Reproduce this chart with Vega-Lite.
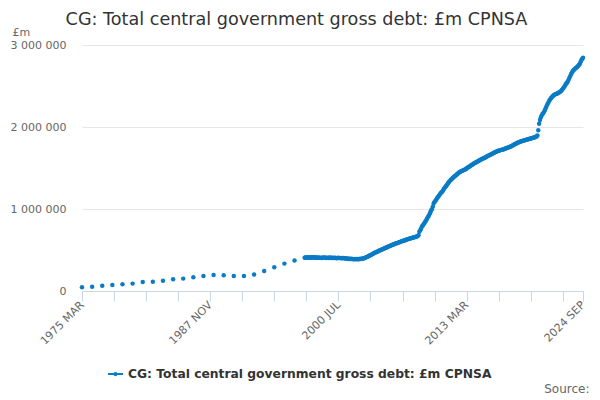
{
  "$schema": "https://vega.github.io/schema/vega-lite/v6.json",
  "description": "CG: Total central government gross debt, £m CPNSA, annual to 1997 then monthly",
  "width": 501,
  "height": 246,
  "autosize": {"type": "none"},
  "padding": {"left": 82, "top": 45, "right": 17, "bottom": 109},
  "background": "white",
  "title": {
    "text": "CG: Total central government gross debt: £m CPNSA",
    "fontSize": 17.6,
    "fontWeight": "normal",
    "color": "#333333",
    "anchor": "middle",
    "frame": "group",
    "baseline": "alphabetic",
    "dx": -36,
    "offset": -16
  },
  "data": {
    "values": [
      {"d": "1975-03", "v": 45000}, {"d": "1976-03", "v": 53000}, {"d": "1977-03", "v": 65000},
      {"d": "1978-03", "v": 73000}, {"d": "1979-03", "v": 82000}, {"d": "1980-03", "v": 90000},
      {"d": "1981-03", "v": 110000}, {"d": "1982-03", "v": 114000}, {"d": "1983-03", "v": 126000},
      {"d": "1984-03", "v": 143000}, {"d": "1985-03", "v": 151000}, {"d": "1986-03", "v": 167000},
      {"d": "1987-03", "v": 184000}, {"d": "1988-03", "v": 196000}, {"d": "1989-03", "v": 192000},
      {"d": "1990-03", "v": 184000}, {"d": "1991-03", "v": 184000}, {"d": "1992-03", "v": 200000},
      {"d": "1993-03", "v": 245000}, {"d": "1994-03", "v": 290000}, {"d": "1995-03", "v": 334000},
      {"d": "1996-03", "v": 371000}, {"d": "1997-03", "v": 405000},
      {"d": "1997-04", "v": 409000}, {"d": "1997-05", "v": 411000}, {"d": "1997-06", "v": 407000},
      {"d": "1997-07", "v": 410000}, {"d": "1997-08", "v": 408000}, {"d": "1997-09", "v": 411000},
      {"d": "1997-10", "v": 406000}, {"d": "1997-11", "v": 409000}, {"d": "1997-12", "v": 412000},
      {"d": "1998-01", "v": 410000}, {"d": "1998-02", "v": 407000}, {"d": "1998-03", "v": 411000},
      {"d": "1998-04", "v": 406000}, {"d": "1998-05", "v": 409000}, {"d": "1998-06", "v": 405000},
      {"d": "1998-07", "v": 410000}, {"d": "1998-08", "v": 407000}, {"d": "1998-09", "v": 404000},
      {"d": "1998-10", "v": 407000}, {"d": "1998-11", "v": 403000}, {"d": "1998-12", "v": 406000},
      {"d": "1999-01", "v": 408000}, {"d": "1999-02", "v": 404000}, {"d": "1999-03", "v": 409000},
      {"d": "1999-04", "v": 405000}, {"d": "1999-05", "v": 403000}, {"d": "1999-06", "v": 407000},
      {"d": "1999-07", "v": 402000}, {"d": "1999-08", "v": 405000}, {"d": "1999-09", "v": 408000},
      {"d": "1999-10", "v": 403000}, {"d": "1999-11", "v": 406000}, {"d": "1999-12", "v": 402000},
      {"d": "2000-01", "v": 405000}, {"d": "2000-02", "v": 401000}, {"d": "2000-03", "v": 406000},
      {"d": "2000-04", "v": 403000}, {"d": "2000-05", "v": 400000}, {"d": "2000-06", "v": 403000},
      {"d": "2000-07", "v": 405000}, {"d": "2000-08", "v": 401000}, {"d": "2000-09", "v": 404000},
      {"d": "2000-10", "v": 400000}, {"d": "2000-11", "v": 403000}, {"d": "2000-12", "v": 399000},
      {"d": "2001-01", "v": 402000}, {"d": "2001-02", "v": 398000}, {"d": "2001-03", "v": 400000},
      {"d": "2001-04", "v": 396000}, {"d": "2001-05", "v": 393000}, {"d": "2001-06", "v": 395000},
      {"d": "2001-07", "v": 391000}, {"d": "2001-08", "v": 393000}, {"d": "2001-09", "v": 390000},
      {"d": "2001-10", "v": 392000}, {"d": "2001-11", "v": 389000}, {"d": "2001-12", "v": 391000},
      {"d": "2002-01", "v": 388000}, {"d": "2002-02", "v": 390000}, {"d": "2002-03", "v": 387000},
      {"d": "2002-04", "v": 389000}, {"d": "2002-05", "v": 388000}, {"d": "2002-06", "v": 390000},
      {"d": "2002-07", "v": 388000}, {"d": "2002-08", "v": 390000}, {"d": "2002-09", "v": 392000},
      {"d": "2002-10", "v": 390000}, {"d": "2002-11", "v": 394000}, {"d": "2002-12", "v": 396000},
      {"d": "2003-01", "v": 399000}, {"d": "2003-02", "v": 402000}, {"d": "2003-03", "v": 407000},
      {"d": "2003-04", "v": 412000}, {"d": "2003-05", "v": 416000}, {"d": "2003-06", "v": 421000},
      {"d": "2003-07", "v": 426000}, {"d": "2003-08", "v": 432000}, {"d": "2003-09", "v": 437000},
      {"d": "2003-10", "v": 443000}, {"d": "2003-11", "v": 448000}, {"d": "2003-12", "v": 455000},
      {"d": "2004-01", "v": 460000}, {"d": "2004-02", "v": 466000}, {"d": "2004-03", "v": 470000},
      {"d": "2004-04", "v": 474000}, {"d": "2004-05", "v": 479000}, {"d": "2004-06", "v": 484000},
      {"d": "2004-07", "v": 490000}, {"d": "2004-08", "v": 494000}, {"d": "2004-09", "v": 499000},
      {"d": "2004-10", "v": 503000}, {"d": "2004-11", "v": 509000}, {"d": "2004-12", "v": 513000},
      {"d": "2005-01", "v": 518000}, {"d": "2005-02", "v": 522000}, {"d": "2005-03", "v": 527000},
      {"d": "2005-04", "v": 531000}, {"d": "2005-05", "v": 536000}, {"d": "2005-06", "v": 541000},
      {"d": "2005-07", "v": 545000}, {"d": "2005-08", "v": 549000}, {"d": "2005-09", "v": 554000},
      {"d": "2005-10", "v": 558000}, {"d": "2005-11", "v": 563000}, {"d": "2005-12", "v": 566000},
      {"d": "2006-01", "v": 570000}, {"d": "2006-02", "v": 575000}, {"d": "2006-03", "v": 578000},
      {"d": "2006-04", "v": 583000}, {"d": "2006-05", "v": 586000}, {"d": "2006-06", "v": 590000},
      {"d": "2006-07", "v": 595000}, {"d": "2006-08", "v": 598000}, {"d": "2006-09", "v": 602000},
      {"d": "2006-10", "v": 606000}, {"d": "2006-11", "v": 609000}, {"d": "2006-12", "v": 613000},
      {"d": "2007-01", "v": 616000}, {"d": "2007-02", "v": 620000}, {"d": "2007-03", "v": 623000},
      {"d": "2007-04", "v": 627000}, {"d": "2007-05", "v": 630000}, {"d": "2007-06", "v": 633000},
      {"d": "2007-07", "v": 637000}, {"d": "2007-08", "v": 640000}, {"d": "2007-09", "v": 643000},
      {"d": "2007-10", "v": 646000}, {"d": "2007-11", "v": 650000}, {"d": "2007-12", "v": 653000},
      {"d": "2008-01", "v": 655000}, {"d": "2008-02", "v": 658000}, {"d": "2008-03", "v": 662000},
      {"d": "2008-04", "v": 666000}, {"d": "2008-05", "v": 670000}, {"d": "2008-06", "v": 680000},
      {"d": "2008-07", "v": 722000}, {"d": "2008-08", "v": 740000}, {"d": "2008-09", "v": 760000},
      {"d": "2008-10", "v": 787000}, {"d": "2008-11", "v": 800000}, {"d": "2008-12", "v": 815000},
      {"d": "2009-01", "v": 830000}, {"d": "2009-02", "v": 848000}, {"d": "2009-03", "v": 860000},
      {"d": "2009-04", "v": 880000}, {"d": "2009-05", "v": 900000}, {"d": "2009-06", "v": 915000},
      {"d": "2009-07", "v": 935000}, {"d": "2009-08", "v": 960000}, {"d": "2009-09", "v": 985000},
      {"d": "2009-10", "v": 1000000}, {"d": "2009-11", "v": 1030000}, {"d": "2009-12", "v": 1070000},
      {"d": "2010-01", "v": 1085000}, {"d": "2010-02", "v": 1100000}, {"d": "2010-03", "v": 1113000},
      {"d": "2010-04", "v": 1130000}, {"d": "2010-05", "v": 1145000}, {"d": "2010-06", "v": 1160000},
      {"d": "2010-07", "v": 1174000}, {"d": "2010-08", "v": 1188000}, {"d": "2010-09", "v": 1200000},
      {"d": "2010-10", "v": 1210000}, {"d": "2010-11", "v": 1225000}, {"d": "2010-12", "v": 1245000},
      {"d": "2011-01", "v": 1258000}, {"d": "2011-02", "v": 1270000}, {"d": "2011-03", "v": 1285000},
      {"d": "2011-04", "v": 1300000}, {"d": "2011-05", "v": 1315000}, {"d": "2011-06", "v": 1328000},
      {"d": "2011-07", "v": 1340000}, {"d": "2011-08", "v": 1352000}, {"d": "2011-09", "v": 1362000},
      {"d": "2011-10", "v": 1372000}, {"d": "2011-11", "v": 1382000}, {"d": "2011-12", "v": 1392000},
      {"d": "2012-01", "v": 1400000}, {"d": "2012-02", "v": 1408000}, {"d": "2012-03", "v": 1418000},
      {"d": "2012-04", "v": 1428000}, {"d": "2012-05", "v": 1436000}, {"d": "2012-06", "v": 1444000},
      {"d": "2012-07", "v": 1450000}, {"d": "2012-08", "v": 1456000}, {"d": "2012-09", "v": 1462000},
      {"d": "2012-10", "v": 1467000}, {"d": "2012-11", "v": 1472000}, {"d": "2012-12", "v": 1477000},
      {"d": "2013-01", "v": 1482000}, {"d": "2013-02", "v": 1488000}, {"d": "2013-03", "v": 1494000},
      {"d": "2013-04", "v": 1502000}, {"d": "2013-05", "v": 1508000}, {"d": "2013-06", "v": 1515000},
      {"d": "2013-07", "v": 1522000}, {"d": "2013-08", "v": 1530000}, {"d": "2013-09", "v": 1536000},
      {"d": "2013-10", "v": 1543000}, {"d": "2013-11", "v": 1550000}, {"d": "2013-12", "v": 1557000},
      {"d": "2014-01", "v": 1563000}, {"d": "2014-02", "v": 1568000}, {"d": "2014-03", "v": 1574000},
      {"d": "2014-04", "v": 1580000}, {"d": "2014-05", "v": 1586000}, {"d": "2014-06", "v": 1592000},
      {"d": "2014-07", "v": 1598000}, {"d": "2014-08", "v": 1604000}, {"d": "2014-09", "v": 1609000},
      {"d": "2014-10", "v": 1614000}, {"d": "2014-11", "v": 1618000}, {"d": "2014-12", "v": 1622000},
      {"d": "2015-01", "v": 1628000}, {"d": "2015-02", "v": 1634000}, {"d": "2015-03", "v": 1640000},
      {"d": "2015-04", "v": 1645000}, {"d": "2015-05", "v": 1651000}, {"d": "2015-06", "v": 1656000},
      {"d": "2015-07", "v": 1661000}, {"d": "2015-08", "v": 1666000}, {"d": "2015-09", "v": 1672000},
      {"d": "2015-10", "v": 1678000}, {"d": "2015-11", "v": 1684000}, {"d": "2015-12", "v": 1690000},
      {"d": "2016-01", "v": 1694000}, {"d": "2016-02", "v": 1698000}, {"d": "2016-03", "v": 1702000},
      {"d": "2016-04", "v": 1706000}, {"d": "2016-05", "v": 1710000}, {"d": "2016-06", "v": 1714000},
      {"d": "2016-07", "v": 1718000}, {"d": "2016-08", "v": 1721000}, {"d": "2016-09", "v": 1724000},
      {"d": "2016-10", "v": 1727000}, {"d": "2016-11", "v": 1730000}, {"d": "2016-12", "v": 1733000},
      {"d": "2017-01", "v": 1737000}, {"d": "2017-02", "v": 1741000}, {"d": "2017-03", "v": 1745000},
      {"d": "2017-04", "v": 1749000}, {"d": "2017-05", "v": 1753000}, {"d": "2017-06", "v": 1757000},
      {"d": "2017-07", "v": 1762000}, {"d": "2017-08", "v": 1766000}, {"d": "2017-09", "v": 1772000},
      {"d": "2017-10", "v": 1778000}, {"d": "2017-11", "v": 1784000}, {"d": "2017-12", "v": 1790000},
      {"d": "2018-01", "v": 1795000}, {"d": "2018-02", "v": 1800000}, {"d": "2018-03", "v": 1805000},
      {"d": "2018-04", "v": 1810000}, {"d": "2018-05", "v": 1814000}, {"d": "2018-06", "v": 1818000},
      {"d": "2018-07", "v": 1822000}, {"d": "2018-08", "v": 1826000}, {"d": "2018-09", "v": 1830000},
      {"d": "2018-10", "v": 1833000}, {"d": "2018-11", "v": 1836000}, {"d": "2018-12", "v": 1839000},
      {"d": "2019-01", "v": 1842000}, {"d": "2019-02", "v": 1845000}, {"d": "2019-03", "v": 1848000},
      {"d": "2019-04", "v": 1851000}, {"d": "2019-05", "v": 1854000}, {"d": "2019-06", "v": 1857000},
      {"d": "2019-07", "v": 1860000}, {"d": "2019-08", "v": 1864000}, {"d": "2019-09", "v": 1867000},
      {"d": "2019-10", "v": 1870000}, {"d": "2019-11", "v": 1873000}, {"d": "2019-12", "v": 1876000},
      {"d": "2020-01", "v": 1880000}, {"d": "2020-02", "v": 1885000}, {"d": "2020-03", "v": 1895000},
      {"d": "2020-04", "v": 1960000}, {"d": "2020-05", "v": 2040000}, {"d": "2020-06", "v": 2085000},
      {"d": "2020-07", "v": 2115000}, {"d": "2020-08", "v": 2140000}, {"d": "2020-09", "v": 2158000},
      {"d": "2020-10", "v": 2172000}, {"d": "2020-11", "v": 2190000}, {"d": "2020-12", "v": 2210000},
      {"d": "2021-01", "v": 2235000}, {"d": "2021-02", "v": 2258000}, {"d": "2021-03", "v": 2280000},
      {"d": "2021-04", "v": 2300000}, {"d": "2021-05", "v": 2320000}, {"d": "2021-06", "v": 2336000},
      {"d": "2021-07", "v": 2350000}, {"d": "2021-08", "v": 2362000}, {"d": "2021-09", "v": 2375000},
      {"d": "2021-10", "v": 2385000}, {"d": "2021-11", "v": 2393000}, {"d": "2021-12", "v": 2398000},
      {"d": "2022-01", "v": 2402000}, {"d": "2022-02", "v": 2407000}, {"d": "2022-03", "v": 2412000},
      {"d": "2022-04", "v": 2418000}, {"d": "2022-05", "v": 2424000}, {"d": "2022-06", "v": 2430000},
      {"d": "2022-07", "v": 2440000}, {"d": "2022-08", "v": 2452000}, {"d": "2022-09", "v": 2465000},
      {"d": "2022-10", "v": 2480000}, {"d": "2022-11", "v": 2495000}, {"d": "2022-12", "v": 2510000},
      {"d": "2023-01", "v": 2530000}, {"d": "2023-02", "v": 2540000}, {"d": "2023-03", "v": 2555000},
      {"d": "2023-04", "v": 2575000}, {"d": "2023-05", "v": 2600000}, {"d": "2023-06", "v": 2622000},
      {"d": "2023-07", "v": 2645000}, {"d": "2023-08", "v": 2665000}, {"d": "2023-09", "v": 2683000},
      {"d": "2023-10", "v": 2695000}, {"d": "2023-11", "v": 2705000}, {"d": "2023-12", "v": 2715000},
      {"d": "2024-01", "v": 2724000}, {"d": "2024-02", "v": 2732000}, {"d": "2024-03", "v": 2742000},
      {"d": "2024-04", "v": 2755000}, {"d": "2024-05", "v": 2765000}, {"d": "2024-06", "v": 2790000},
      {"d": "2024-07", "v": 2815000}, {"d": "2024-08", "v": 2830000}, {"d": "2024-09", "v": 2845000}
    ]
  },
  "mark": {"type": "point", "filled": true, "size": 20, "opacity": 1},
  "encoding": {
    "x": {
      "field": "d",
      "type": "temporal",
      "scale": {
        "type": "utc",
        "domain": [
          {"year": 1975, "month": 3, "date": 1, "utc": true},
          {"year": 2024, "month": 9, "date": 1, "utc": true}
        ]
      },
      "axis": {
        "title": "Source:",
        "titleX": 507,
        "titleY": 101,
        "titleAlign": "right",
        "titleBaseline": "alphabetic",
        "titleFontSize": 12,
        "titleFontWeight": "normal",
        "titleColor": "#666666",
        "grid": false,
        "domainColor": "#ccd6eb",
        "tickColor": "#ccd6eb",
        "tickSize": 10,
        "labelAngle": -45,
        "labelAlign": "right",
        "labelBaseline": "middle",
        "labelPadding": 2,
        "labelFlush": false,
        "labelOverlap": false,
        "labelBound": false,
        "labelFontSize": 11,
        "labelColor": "#666666",
        "values": [
          {"year": 1975, "month": 3, "date": 1, "utc": true},
          {"year": 1978, "month": 5, "date": 1, "utc": true},
          {"year": 1981, "month": 7, "date": 1, "utc": true},
          {"year": 1984, "month": 9, "date": 1, "utc": true},
          {"year": 1987, "month": 11, "date": 1, "utc": true},
          {"year": 1991, "month": 1, "date": 1, "utc": true},
          {"year": 1994, "month": 3, "date": 1, "utc": true},
          {"year": 1997, "month": 5, "date": 1, "utc": true},
          {"year": 2000, "month": 7, "date": 1, "utc": true},
          {"year": 2003, "month": 9, "date": 1, "utc": true},
          {"year": 2006, "month": 11, "date": 1, "utc": true},
          {"year": 2010, "month": 1, "date": 1, "utc": true},
          {"year": 2013, "month": 3, "date": 1, "utc": true},
          {"year": 2016, "month": 5, "date": 1, "utc": true},
          {"year": 2019, "month": 7, "date": 1, "utc": true},
          {"year": 2022, "month": 9, "date": 1, "utc": true},
          {"year": 2024, "month": 9, "date": 1, "utc": true}
        ],
        "labelExpr": "indexof(['1975 MAR', '1987 NOV', '2000 JUL', '2013 MAR', '2024 SEP'], upper(utcFormat(datum.value, '%Y %b'))) >= 0 ? upper(utcFormat(datum.value, '%Y %b')) : ''"
      }
    },
    "y": {
      "field": "v",
      "type": "quantitative",
      "scale": {"domain": [0, 3000000], "nice": false},
      "axis": {
        "title": "£m",
        "titleAngle": 0,
        "titleAlign": "left",
        "titleBaseline": "alphabetic",
        "titleX": -70,
        "titleY": -9.5,
        "titleFontSize": 11,
        "titleFontWeight": "normal",
        "titleColor": "#666666",
        "values": [0, 1000000, 2000000, 3000000],
        "labelExpr": "replace(format(datum.value, ','), regexp(',', 'g'), ' ')",
        "labelFontSize": 11,
        "labelColor": "#666666",
        "labelPadding": 16,
        "domain": false,
        "ticks": false,
        "gridColor": "#e6e6e6"
      }
    },
    "color": {
      "datum": "CG: Total central government gross debt: £m CPNSA",
      "scale": {"range": ["#0a7bc4"]},
      "legend": {
        "title": null,
        "orient": "none",
        "legendX": 25,
        "legendY": 320.5,
        "padding": 0,
        "symbolType": "M-1,0H1M-0.15,0A0.15,0.15,0,1,1,0.15,0A0.15,0.15,0,1,1,-0.15,0Z",
        "symbolSize": 225,
        "symbolFillColor": "#0a7bc4",
        "symbolStrokeColor": "#0a7bc4",
        "symbolStrokeWidth": 2,
        "symbolOpacity": 1,
        "labelFontSize": 12.3,
        "labelFontWeight": "bold",
        "labelColor": "#333333",
        "labelOffset": 4,
        "labelLimit": 500,
        "encode": {
          "symbols": {
            "enter": {
              "stroke": {"value": "#0a7bc4"},
              "strokeWidth": {"value": 2}
            },
            "update": {
              "fill": {"value": "#0a7bc4"},
              "stroke": {"value": "#0a7bc4"},
              "strokeWidth": {"value": 2},
              "opacity": {"value": 1}
            }
          }
        }
      }
    }
  },
  "config": {
    "font": "DejaVu Sans",
    "view": {"stroke": null}
  }
}
